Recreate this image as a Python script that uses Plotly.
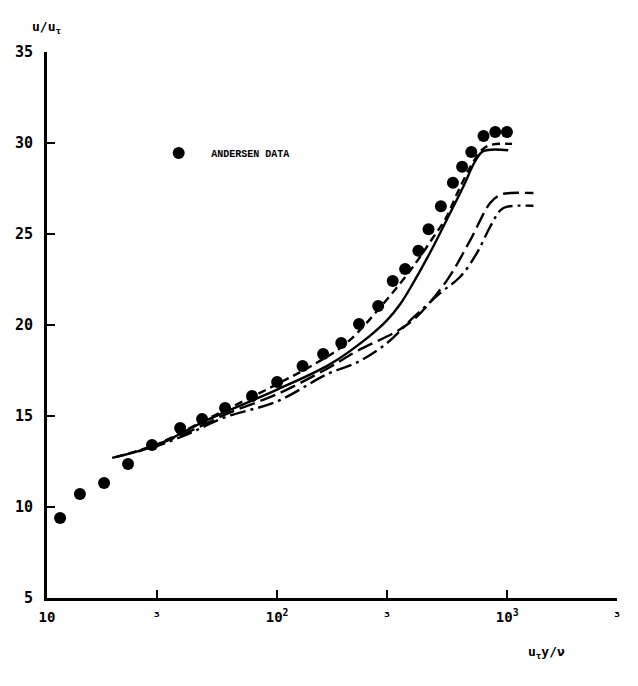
import plotly.graph_objects as go

# Andersen data (u_tau*y/nu, u/u_tau)
andersen_x = [11.4, 13.9, 17.7, 22.5, 28.6, 37.9, 47.2, 59.4, 77.8, 100, 129, 158.5, 190,
              227, 275, 318, 360, 411, 455, 515, 581, 637, 698, 789, 887, 997]
andersen_y = [9.40, 10.71, 11.32, 12.36, 13.41, 14.34, 14.84, 15.44, 16.10, 16.87, 17.75, 18.41, 19.01,
              20.05, 21.04, 22.42, 23.08, 24.08, 25.26, 26.52, 27.82, 28.70, 29.51, 30.38, 30.60, 30.60]

# Predicted curves
dashed_x = [20, 30, 50, 100, 150, 200, 300, 400, 470, 540, 615, 700, 780, 850, 1050]
dashed_y = [12.75, 13.45, 14.85, 16.75, 17.95, 19.0, 21.4, 23.4, 24.7, 25.85, 27.4, 28.8, 29.65, 29.9, 29.95]

solid_x = [19.2, 30, 50, 100, 170, 250, 300, 343, 390, 463, 547, 644, 726, 787, 1010]
solid_y = [12.7, 13.4, 14.8, 16.45, 17.85, 19.35, 20.25, 21.15, 22.3, 24.0, 25.8, 27.6, 29.0, 29.55, 29.6]

longdash_x = [25, 40, 60, 100, 165, 225, 336, 404, 547, 690, 843, 933, 1031, 1300]
longdash_y = [13.05, 14.05, 15.1, 16.2, 17.6, 18.6, 19.7, 20.45, 22.45, 24.65, 26.7, 27.15, 27.25, 27.25]

dashdot_x = [28, 40, 60, 100, 165, 223, 300, 390, 511, 625, 738, 843, 933, 1000, 1300]
dashdot_y = [13.2, 13.95, 14.95, 15.8, 17.3, 17.95, 19.0, 20.4, 21.75, 22.65, 23.95, 25.4, 26.3, 26.5, 26.55]

x_tickvals = [10, 30, 100, 300, 1000, 3000]
x_ticktext = ["<b>10</b>", "<b>³</b>", "<b>10<sup>2</sup></b>", "<b>³</b>", "<b>10<sup>3</sup></b>", "<b>³</b>"]
y_tickvals = [5, 10, 15, 20, 25, 30, 35]
y_ticktext = ["<b>%d</b>" % v for v in y_tickvals]

fig = go.Figure()
line_w = 2.4
fig.add_trace(go.Scatter(x=dashed_x, y=dashed_y, mode="lines", line_shape="spline",
                         line=dict(color="black", width=line_w, dash="8px,5px"), showlegend=False))
fig.add_trace(go.Scatter(x=solid_x, y=solid_y, mode="lines", line_shape="spline",
                         line=dict(color="black", width=line_w), showlegend=False))
fig.add_trace(go.Scatter(x=longdash_x, y=longdash_y, mode="lines", line_shape="spline",
                         line=dict(color="black", width=line_w, dash="16px,6px"), showlegend=False))
fig.add_trace(go.Scatter(x=dashdot_x, y=dashdot_y, mode="lines", line_shape="spline",
                         line=dict(color="black", width=line_w, dash="16px,5px,3px,5px"), showlegend=False))
fig.add_trace(go.Scatter(x=andersen_x, y=andersen_y, mode="markers", name="<b>ANDERSEN DATA</b>",
                         marker=dict(color="black", size=12), showlegend=True))

fig.update_layout(
    width=630, height=678,
    margin=dict(l=39, r=21, t=44, b=88),
    paper_bgcolor="white", plot_bgcolor="white",
    font=dict(family="Liberation Mono", color="black", size=13),
    legend=dict(x=0.174, y=0.815, xanchor="left", yanchor="middle",
                bgcolor="rgba(0,0,0,0)", font=dict(family="Liberation Mono", size=10),
                itemwidth=55),
    xaxis=dict(type="log", range=[1, 3.4771], tickvals=x_tickvals, ticktext=x_ticktext,
               ticks="inside", ticklen=8, tickwidth=2, tickcolor="black", automargin=False,
               showline=True, linewidth=3, linecolor="black", showgrid=False, zeroline=False,
               ticklabelstandoff=4,
               tickfont=dict(family="DejaVu Sans Mono", size=14, color="black")),
    yaxis=dict(range=[5, 35], tickvals=y_tickvals, ticktext=y_ticktext,
               ticks="inside", ticklen=8, tickwidth=2, tickcolor="black", automargin=False,
               showline=True, linewidth=3, linecolor="black", showgrid=False, zeroline=False,
               ticklabelstandoff=8,
               tickfont=dict(family="DejaVu Sans Mono", size=15, color="black")),
    annotations=[
        dict(text="<b>u/u<sub>τ</sub></b>", xref="paper", yref="paper", x=-0.03, y=1.025,
             xanchor="left", yanchor="bottom", showarrow=False,
             font=dict(family="DejaVu Sans Mono", size=13)),
        dict(text="<b>u<sub>τ</sub>y/ν</b>", xref="paper", yref="paper", x=0.84, y=-0.08,
             xanchor="left", yanchor="top", showarrow=False,
             font=dict(family="DejaVu Sans Mono", size=13)),
    ],
)

fig.write_html("out.html")
